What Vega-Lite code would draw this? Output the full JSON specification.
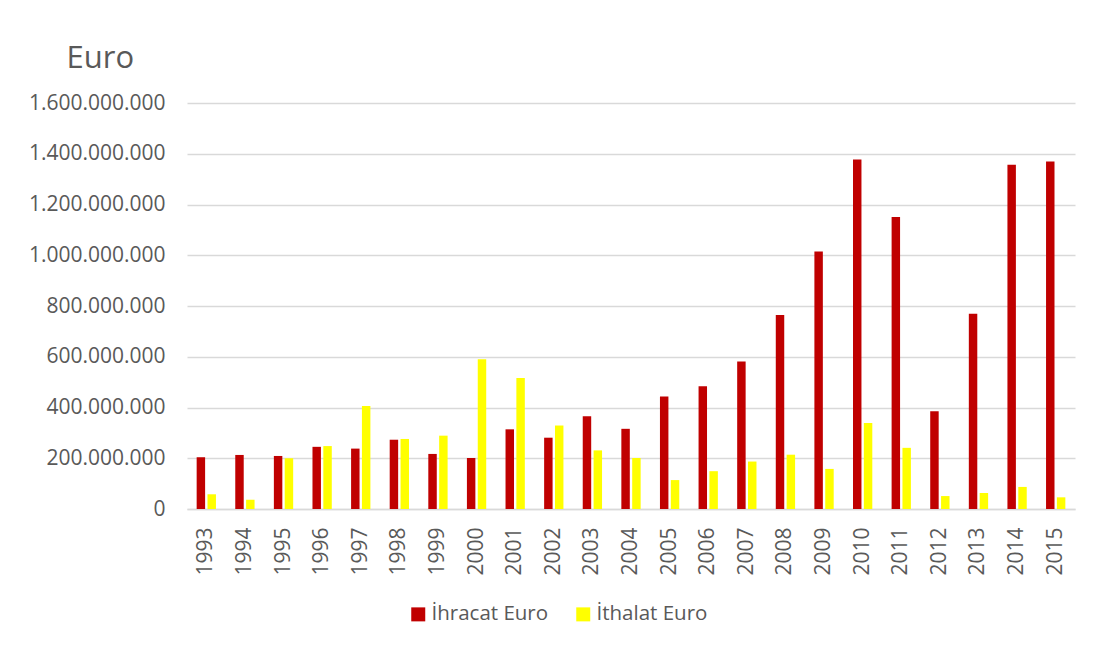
{
  "$schema": "https://vega.github.io/schema/vega-lite/v6.json",
  "width": 888,
  "height": 406,
  "autosize": {"type": "none"},
  "padding": {"left": 187, "top": 103, "right": 37, "bottom": 142},
  "background": "white",
  "config": {
    "font": "Open Sans",
    "view": {"stroke": null},
    "axis": {"labelColor": "#595959", "labelFont": "Open Sans"}
  },
  "data": {
    "values": [
      {"year": "1993", "series": "İhracat Euro", "value": 204000000},
      {"year": "1993", "series": "İthalat Euro", "value": 58000000},
      {"year": "1994", "series": "İhracat Euro", "value": 213000000},
      {"year": "1994", "series": "İthalat Euro", "value": 36000000},
      {"year": "1995", "series": "İhracat Euro", "value": 209000000},
      {"year": "1995", "series": "İthalat Euro", "value": 200000000},
      {"year": "1996", "series": "İhracat Euro", "value": 245000000},
      {"year": "1996", "series": "İthalat Euro", "value": 248000000},
      {"year": "1997", "series": "İhracat Euro", "value": 238000000},
      {"year": "1997", "series": "İthalat Euro", "value": 406000000},
      {"year": "1998", "series": "İhracat Euro", "value": 273000000},
      {"year": "1998", "series": "İthalat Euro", "value": 276000000},
      {"year": "1999", "series": "İhracat Euro", "value": 217000000},
      {"year": "1999", "series": "İthalat Euro", "value": 289000000},
      {"year": "2000", "series": "İhracat Euro", "value": 201000000},
      {"year": "2000", "series": "İthalat Euro", "value": 590000000},
      {"year": "2001", "series": "İhracat Euro", "value": 314000000},
      {"year": "2001", "series": "İthalat Euro", "value": 516000000},
      {"year": "2002", "series": "İhracat Euro", "value": 281000000},
      {"year": "2002", "series": "İthalat Euro", "value": 329000000},
      {"year": "2003", "series": "İhracat Euro", "value": 366000000},
      {"year": "2003", "series": "İthalat Euro", "value": 231000000},
      {"year": "2004", "series": "İhracat Euro", "value": 316000000},
      {"year": "2004", "series": "İthalat Euro", "value": 201000000},
      {"year": "2005", "series": "İhracat Euro", "value": 443000000},
      {"year": "2005", "series": "İthalat Euro", "value": 114000000},
      {"year": "2006", "series": "İhracat Euro", "value": 484000000},
      {"year": "2006", "series": "İthalat Euro", "value": 149000000},
      {"year": "2007", "series": "İhracat Euro", "value": 581000000},
      {"year": "2007", "series": "İthalat Euro", "value": 187000000},
      {"year": "2008", "series": "İhracat Euro", "value": 765000000},
      {"year": "2008", "series": "İthalat Euro", "value": 214000000},
      {"year": "2009", "series": "İhracat Euro", "value": 1015000000},
      {"year": "2009", "series": "İthalat Euro", "value": 158000000},
      {"year": "2010", "series": "İhracat Euro", "value": 1377000000},
      {"year": "2010", "series": "İthalat Euro", "value": 339000000},
      {"year": "2011", "series": "İhracat Euro", "value": 1151000000},
      {"year": "2011", "series": "İthalat Euro", "value": 241000000},
      {"year": "2012", "series": "İhracat Euro", "value": 385000000},
      {"year": "2012", "series": "İthalat Euro", "value": 51000000},
      {"year": "2013", "series": "İhracat Euro", "value": 769000000},
      {"year": "2013", "series": "İthalat Euro", "value": 63000000},
      {"year": "2014", "series": "İhracat Euro", "value": 1357000000},
      {"year": "2014", "series": "İthalat Euro", "value": 87000000},
      {"year": "2015", "series": "İhracat Euro", "value": 1369000000},
      {"year": "2015", "series": "İthalat Euro", "value": 46000000}
    ]
  },
  "mark": {"type": "bar"},
  "encoding": {
    "x": {
      "field": "year",
      "type": "ordinal",
      "scale": {"paddingInner": 0.5, "paddingOuter": 0.25},
      "axis": {
        "title": null,
        "labelAngle": -90,
        "labelFontSize": 21,
        "labelPadding": 18,
        "ticks": false,
        "domain": true,
        "domainColor": "#D9D9D9",
        "domainWidth": 1.5,
        "labelBaseline": "middle",
        "labelAlign": "right"
      }
    },
    "xOffset": {
      "field": "series",
      "type": "nominal",
      "scale": {"paddingInner": 0.22, "domain": ["İhracat Euro", "İthalat Euro"]}
    },
    "y": {
      "field": "value",
      "type": "quantitative",
      "scale": {"domain": [0, 1600000000], "nice": false},
      "axis": {
        "values": [0, 200000000, 400000000, 600000000, 800000000, 1000000000, 1200000000, 1400000000, 1600000000],
        "labelExpr": "replace(format(datum.value, ','), /,/g, '.')",
        "labelFontSize": 21,
        "labelPadding": 22,
        "ticks": false,
        "domain": false,
        "gridColor": "#D9D9D9",
        "gridWidth": 1.5,
        "title": "Euro",
        "titleAngle": 0,
        "titleAlign": "left",
        "titleBaseline": "alphabetic",
        "titleX": -121,
        "titleY": -36,
        "titleFontSize": 31,
        "titleFontWeight": "normal",
        "titleColor": "#595959",
        "titleFont": "Open Sans"
      }
    },
    "color": {
      "field": "series",
      "type": "nominal",
      "scale": {"domain": ["İhracat Euro", "İthalat Euro"], "range": ["#C00000", "#FFFF00"]},
      "legend": {
        "title": null,
        "orient": "none",
        "direction": "horizontal",
        "legendX": 221,
        "legendY": 501,
        "symbolType": "square",
        "symbolSize": 196,
        "labelFontSize": 20.5,
        "labelColor": "#595959",
        "labelFont": "Open Sans",
        "labelOffset": 3,
        "columnPadding": 24,
        "symbolStrokeWidth": 0
      }
    }
  }
}
